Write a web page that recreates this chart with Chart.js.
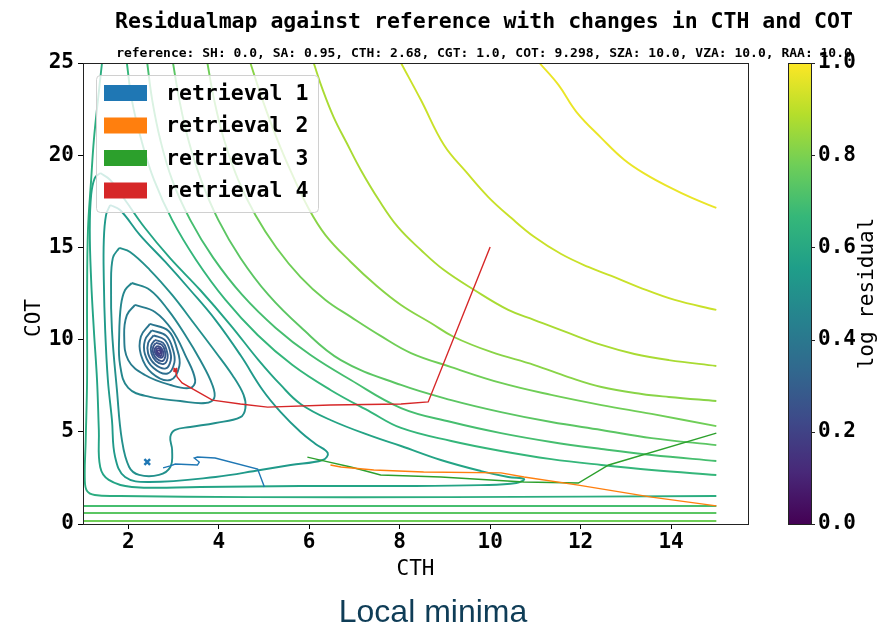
<!DOCTYPE html>
<html>
<head>
<meta charset="utf-8">
<script src="https://cdn.jsdelivr.net/npm/chart.js@4.4.1/dist/chart.umd.min.js"></script>
<style>
    body { margin: 0; background: #fff; }
    #wrap { position: relative; width: 893px; height: 623px; overflow: hidden; }
    #chart_canvas { position: absolute; left: 0; top: 0; }
    .txt { position: absolute; white-space: nowrap; line-height: 1; transform: translateX(-50%); color: #000; }
    #title { left: 484px; top: 8px; font: bold 21.5px "DejaVu Sans Mono"; }
    #subtitle { left: 484px; top: 45px; font: bold 13px "DejaVu Sans Mono"; }
    #caption { left: 433px; top: 593px; font: 32px "Liberation Sans"; color: #0f3d57; }
</style>
</head>
<body>
<div id="wrap">
    <canvas id="chart_canvas" width="893" height="623"></canvas>
    <div id="title" class="txt">Residualmap against reference with changes in CTH and COT</div>
    <div id="subtitle" class="txt">reference: SH: 0.0, SA: 0.95, CTH: 2.68, CGT: 1.0, COT: 9.298, SZA: 10.0, VZA: 10.0, RAA: 10.0</div>
    <div id="caption" class="txt">Local minima</div>
</div>
<script>

// tick labels
var xTicks = [2, 4, 6, 8, 10, 12, 14];
var yTicks = [0, 5, 10, 15, 20, 25];
var cbTicks = [0, 0.2, 0.4, 0.6, 0.8, 1.0];

// retrieval paths (CTH, COT)
var retrieval1X = [5.01, 4.86, 3.92, 3.53, 3.46, 3.57, 3.53, 3.04, 2.93, 2.77];
var retrieval1Y = [2.01, 2.98, 3.58, 3.63, 3.58, 3.36, 3.20, 3.25, 3.15, 3.04];
var retrieval2X = [15.0, 13.57, 11.95, 10.75, 10.24, 8.53, 7.43, 6.70, 6.47];
var retrieval2Y = [0.98, 1.46, 2.11, 2.55, 2.77, 2.82, 2.93, 3.09, 3.20];
var retrieval3X = [15.0, 12.62, 11.95, 10.75, 8.91, 7.58, 6.92, 6.32, 5.96];
var retrieval3Y = [4.93, 3.20, 2.22, 2.28, 2.55, 2.66, 3.09, 3.42, 3.63];
var retrieval4X = [10.0, 8.63, 8.03, 6.47, 5.08, 4.48, 3.86, 3.19, 3.08, 3.04];
var retrieval4Y = [15.02, 6.62, 6.51, 6.45, 6.34, 6.51, 6.72, 7.65, 7.97, 8.35];
var retrievalColors = ['#1f77b4', '#ff7f0e', '#2ca02c', '#d62728'];
var markerBlue = [2.42, 3.36];
var markerRed = [3.04, 8.35];

// contour lines of the log residual as [CTH, COT]
var ring1 = [[2.67,9.44],[2.70,9.41],[2.71,9.34],[2.71,9.28],[2.70,9.22],[2.67,9.25],[2.65,9.32],[2.65,9.39],[2.67,9.44]];
var ring2 = [[2.65,9.55],[2.71,9.49],[2.74,9.35],[2.74,9.22],[2.72,9.11],[2.66,9.17],[2.62,9.31],[2.62,9.45],[2.65,9.55]];
var ring3 = [[2.64,9.66],[2.72,9.57],[2.77,9.36],[2.78,9.17],[2.73,9.01],[2.65,9.09],[2.59,9.30],[2.59,9.51],[2.64,9.66]];
var ring4 = [[2.61,9.82],[2.75,9.70],[2.81,9.38],[2.82,9.09],[2.76,8.84],[2.63,8.96],[2.55,9.28],[2.55,9.60],[2.61,9.82]];
var ring5 = [[2.59,9.98],[2.77,9.82],[2.85,9.40],[2.87,9.01],[2.79,8.68],[2.61,8.84],[2.51,9.27],[2.51,9.69],[2.59,9.98]];
var ring6 = [[2.56,10.23],[2.80,10.00],[2.92,9.42],[2.94,8.88],[2.83,8.44],[2.59,8.66],[2.44,9.24],[2.44,9.82],[2.56,10.23]];
var ring7 = [[2.52,10.50],[2.84,10.20],[2.99,9.45],[3.02,8.75],[2.87,8.16],[2.56,8.46],[2.37,9.21],[2.37,9.97],[2.52,10.50]];
var ring8 = [[2.48,10.85],[2.89,10.47],[3.08,9.48],[3.13,8.57],[2.93,7.81],[2.52,8.19],[2.28,9.18],[2.28,10.17],[2.48,10.85]];
var ring9 = [[2.15,11.88],[2.59,11.50],[2.97,10.52],[3.26,9.16],[3.48,7.81],[3.37,7.38],[2.93,7.54],[2.37,8.08],[2.00,8.89],[1.91,10.25],[1.97,11.33],[2.15,11.88]];
var ring10 = [[2.08,13.07],[2.48,12.69],[2.88,11.61],[3.26,10.25],[3.59,8.89],[3.86,7.54],[3.90,6.83],[3.70,6.56],[3.15,6.67],[2.48,6.89],[2.00,7.38],[1.82,8.62],[1.80,10.25],[1.84,11.88],[1.93,12.69],[2.08,13.07]];
var lobeQ = [[1.80,14.97],[2.04,14.75],[2.48,13.77],[2.97,12.42],[3.48,10.79],[3.93,9.33],[4.30,8.08],[4.55,7.00],[4.59,6.29],[4.48,5.80],[3.93,5.48],[3.37,5.26],[3.04,5.10],[2.93,4.72],[2.97,4.01],[2.93,3.09],[2.68,2.66],[2.24,2.66],[2.02,3.09],[1.86,4.56],[1.75,7.27],[1.64,10.52],[1.62,12.96],[1.66,14.43],[1.80,14.97]];
var lobeP = [[1.60,17.30],[1.82,17.03],[2.26,15.67],[2.82,14.21],[3.37,12.69],[3.93,11.06],[4.48,9.16],[4.97,7.27],[5.37,6.07],[5.81,4.99],[6.14,4.34],[6.41,3.85],[6.30,3.47],[5.59,3.20],[4.92,2.93],[3.93,2.55],[2.46,2.28],[1.93,2.55],[1.71,3.63],[1.64,5.64],[1.55,7.81],[1.49,10.52],[1.46,13.23],[1.46,15.40],[1.51,16.76],[1.60,17.30]];
var lobeR = [[1.38,19.03],[1.60,18.66],[1.93,17.57],[2.37,16.05],[2.92,14.43],[3.59,12.69],[4.26,10.79],[4.88,8.89],[5.37,7.54],[5.81,6.51],[6.47,5.64],[7.43,4.72],[8.03,4.23],[8.91,3.47],[9.80,2.87],[10.40,2.55],[10.75,2.44],[10.58,2.22],[9.80,2.11],[8.03,2.06],[5.81,2.06],[3.59,2.01],[2.08,2.01],[1.57,2.39],[1.38,3.09],[1.35,5.10],[1.31,7.81],[1.24,10.52],[1.18,13.23],[1.15,15.94],[1.18,17.84],[1.26,18.76],[1.38,19.03]];
var edgeS = [[1.42,25],[1.33,22.99],[1.24,20.82],[1.18,18.66],[1.11,15.94],[1.09,12.15],[1.09,7.81],[1.06,4.56],[1.04,2.39],[1.09,1.79],[1.26,1.57],[1.82,1.52],[4.70,1.46],[9.14,1.46],[15,1.52]];
var arc8 = [[1.97,25],[2.08,22.99],[2.29,20.82],[2.57,18.66],[2.97,16.49],[3.50,14.32],[4.15,12.15],[4.86,10.25],[5.63,8.62],[6.47,7.27],[7.36,6.07],[8.03,5.21],[9.14,4.50],[10.24,3.96],[11.35,3.52],[12.46,3.20],[13.57,2.93],[15,2.66]];
var arc7 = [[2.42,25],[2.53,22.99],[2.71,20.82],[2.97,18.66],[3.37,16.49],[3.88,14.43],[4.52,12.42],[5.26,10.63],[6.03,9.16],[6.92,7.81],[8.03,6.29],[9.14,5.53],[10.24,4.93],[11.35,4.45],[12.46,4.07],[13.57,3.74],[15,3.42]];
var arc6 = [[2.99,25],[3.13,22.99],[3.33,20.82],[3.61,18.66],[3.99,16.49],[4.48,14.43],[5.10,12.42],[5.81,10.68],[6.70,8.89],[8.03,7.54],[9.14,6.72],[10.24,6.07],[11.35,5.53],[12.46,5.10],[13.57,4.66],[15,4.28]];
var arc5 = [[3.75,25],[3.90,22.99],[4.12,20.82],[4.43,18.66],[4.81,16.76],[5.28,14.97],[5.81,13.39],[6.36,12.15],[6.92,11.23],[7.58,10.20],[8.25,9.27],[9.14,8.51],[10.24,7.65],[11.35,7.00],[12.46,6.45],[13.57,5.97],[15,5.31]];
var arc4 = [[4.70,25],[4.97,22.99],[5.30,20.82],[5.63,18.93],[5.97,17.19],[6.36,15.67],[6.92,14.21],[7.47,12.96],[8.03,11.88],[8.69,10.90],[9.20,10.14],[10.02,9.33],[10.98,8.62],[11.73,7.97],[12.46,7.43],[13.35,7.05],[13.95,6.89],[15,6.67]];
var arc3 = [[6.10,25],[6.30,23.54],[6.54,22.07],[6.83,20.66],[7.14,19.20],[7.54,17.57],[7.96,16.11],[8.47,14.86],[8.98,13.77],[9.65,12.69],[10.40,11.61],[10.98,11.06],[11.73,10.36],[12.46,9.71],[13.19,9.22],[13.95,8.89],[15,8.57]];
var arc2 = [[8.03,25],[8.47,22.99],[8.98,20.55],[9.47,19.09],[9.96,17.73],[10.47,16.59],[10.98,15.56],[11.57,14.64],[12.17,13.94],[12.68,13.45],[13.28,12.85],[14.08,12.15],[15,11.61]];
var arc1 = [[11.09,25],[11.51,23.81],[11.91,22.34],[12.46,20.93],[12.97,19.74],[13.46,18.93],[13.95,18.28],[14.46,17.68],[15,17.14]];
var floor1 = [[1,0.98],[5,0.98],[10,0.98],[15,0.98]];
var floor2 = [[1,0.60],[5,0.60],[10,0.60],[15,0.60]];
var floor3 = [[1,0.16],[5,0.16],[10,0.16],[15,0.16]];

var contourPaths = [ring1, ring2, ring3, ring4, ring5, ring6, ring7, ring8, ring9, ring10,
    lobeQ, lobeP, lobeR, edgeS, arc8, arc7, arc6, arc5, arc4, arc3, arc2, arc1, floor1, floor2, floor3];
var contourLevels = [0.18, 0.21, 0.24, 0.27, 0.30, 0.33, 0.36, 0.39, 0.42, 0.46,
    0.50, 0.54, 0.58, 0.62, 0.66, 0.70, 0.74, 0.78, 0.82, 0.87, 0.92, 0.97, 0.70, 0.74, 0.78];

var viridis = ['#440154', '#482878', '#3e4989', '#31688e', '#26828e', '#1f9e89', '#35b779', '#6ece58', '#b5de2b', '#fde725'];
var fontFamily = '"DejaVu Sans Mono", monospace';

function hexToRgb(h) {
    return [parseInt(h.substr(1, 2), 16), parseInt(h.substr(3, 2), 16), parseInt(h.substr(5, 2), 16)];
}

function viridisColor(v) {
    var n = viridis.length - 1;
    var f = Math.min(Math.max(v, 0), 1) * n;
    var i = Math.min(Math.floor(f), n - 1);
    var t = f - i;
    var a = hexToRgb(viridis[i]), b = hexToRgb(viridis[i + 1]);
    return 'rgb(' + [0, 1, 2].map(function (k) { return Math.round(a[k] + (b[k] - a[k]) * t); }).join(',') + ')';
}

function toPoints(xs, ys) {
    return xs.map(function (x, i) { return { x: x, y: ys[i] }; });
}

// scales keep the plot box fixed, no extra room for label overhang
function noPad(s) {
    s.paddingTop = 0;
    s.paddingBottom = 0;
    s.paddingLeft = 0;
    s.paddingRight = 0;
}

var datasets = [];

var retrievalX = [retrieval1X, retrieval2X, retrieval3X, retrieval4X];
var retrievalY = [retrieval1Y, retrieval2Y, retrieval3Y, retrieval4Y];
retrievalX.forEach(function (xs, i) {
    datasets.push({
        label: 'retrieval ' + (i + 1),
        isRetrieval: true,
        data: toPoints(xs, retrievalY[i]),
        showLine: true,
        borderColor: retrievalColors[i],
        backgroundColor: retrievalColors[i],
        borderWidth: 1.4,
        pointRadius: 0,
        tension: 0,
        order: 0
    });
});

datasets.push({
    data: [{ x: markerBlue[0], y: markerBlue[1] }],
    pointStyle: 'crossRot', pointRadius: 4, pointBorderWidth: 2.5,
    borderColor: retrievalColors[0], order: 0
});
datasets.push({
    data: [{ x: markerRed[0], y: markerRed[1] }],
    pointStyle: 'crossRot', pointRadius: 2.5, pointBorderWidth: 2,
    borderColor: retrievalColors[3], order: 0
});

contourPaths.forEach(function (path, i) {
    datasets.push({
        data: path.map(function (p) { return { x: p[0], y: p[1] }; }),
        showLine: true,
        borderColor: viridisColor(contourLevels[i]),
        borderWidth: 1.9,
        pointRadius: 0,
        tension: 0.4,
        order: 1
    });
});

// plot frame and the COT label
var framePlugin = {
    id: 'frame',
    afterDraw: function (chart) {
        var a = chart.chartArea, ctx = chart.ctx;
        ctx.save();
        ctx.strokeStyle = '#222';
        ctx.lineWidth = 1;
        ctx.strokeRect(Math.round(a.left) + 0.5, Math.round(a.top) + 0.5, Math.round(a.right - a.left), Math.round(a.bottom - a.top));
        ctx.translate(35, 318);
        ctx.rotate(-Math.PI / 2);
        ctx.fillStyle = '#000';
        ctx.font = '21px ' + fontFamily;
        ctx.textAlign = 'center';
        ctx.textBaseline = 'middle';
        ctx.fillText('COT', 0, 0);
        ctx.restore();
    }
};

// colour bar next to the plot
var colorbarPlugin = {
    id: 'colorbar',
    afterDraw: function (chart) {
        var ctx = chart.ctx, cb = chart.scales.cb;
        var x0 = 788, w = 23;
        var top = cb.getPixelForValue(1), bottom = cb.getPixelForValue(0);
        ctx.save();
        var grad = ctx.createLinearGradient(0, bottom, 0, top);
        viridis.forEach(function (c, i) { grad.addColorStop(i / (viridis.length - 1), c); });
        ctx.fillStyle = grad;
        ctx.fillRect(x0, top, w, bottom - top);
        ctx.strokeStyle = '#222';
        ctx.lineWidth = 1;
        ctx.strokeRect(x0 + 0.5, Math.round(top) + 0.5, w, Math.round(bottom - top));
        cb.ticks.forEach(function (t) {
            var y = Math.round(cb.getPixelForValue(t.value)) + 0.5;
            ctx.beginPath();
            ctx.moveTo(x0 + w, y);
            ctx.lineTo(x0 + w + 4, y);
            ctx.stroke();
        });
        ctx.translate(868, (top + bottom) / 2);
        ctx.rotate(-Math.PI / 2);
        ctx.fillStyle = '#000';
        ctx.font = '21px ' + fontFamily;
        ctx.textAlign = 'center';
        ctx.textBaseline = 'middle';
        ctx.fillText('log residual', 0, 0);
        ctx.restore();
    }
};

// legend box inside the plot, upper left
var legendPlugin = {
    id: 'boxLegend',
    afterDatasetsDraw: function (chart) {
        var ctx = chart.ctx, a = chart.chartArea;
        var items = chart.data.datasets.filter(function (d) { return d.isRetrieval; });
        var bx = a.left + 13, by = a.top + 12, bw = 222, bh = 137;
        ctx.save();
        ctx.fillStyle = 'rgba(255,255,255,0.8)';
        ctx.strokeStyle = '#d0d0d0';
        ctx.lineWidth = 1;
        ctx.beginPath();
        ctx.roundRect(bx + 0.5, by + 0.5, bw, bh, 4);
        ctx.fill();
        ctx.stroke();
        ctx.font = 'bold 21.5px ' + fontFamily;
        ctx.textBaseline = 'middle';
        items.forEach(function (d, i) {
            var cy = by + 18 + i * 32.5;
            ctx.fillStyle = d.borderColor;
            ctx.fillRect(bx + 8, cy - 8, 43, 16);
            ctx.fillStyle = '#000';
            ctx.fillText(d.label, bx + 70, cy + 1);
        });
        ctx.restore();
    }
};

var ctx = document.getElementById('chart_canvas').getContext('2d');

var chart = new Chart(ctx, {
    type: 'scatter',
    data: { datasets: datasets },
    options: {
        responsive: false,
        animation: false,
        devicePixelRatio: 1,
        events: [],
        layout: { padding: { top: 63, left: 0, right: 0, bottom: 0 } },
        plugins: {
            legend: { display: false },
            tooltip: { enabled: false }
        },
        scales: {
            x: {
                type: 'linear',
                min: 1,
                max: 15.7,
                afterBuildTicks: function (s) { s.ticks = xTicks.map(function (v) { return { value: v }; }); },
                afterFit: function (s) { s.height = 99; noPad(s); },
                grid: { display: true, drawOnChartArea: false, drawTicks: true, tickLength: 5, color: '#000' },
                border: { display: false },
                ticks: { color: '#000', padding: 1, maxRotation: 0, autoSkip: false, font: { family: fontFamily, size: 21, weight: 'bold' } },
                title: { display: true, text: 'CTH', color: '#000', font: { family: fontFamily, size: 21 }, padding: { top: 41, bottom: 41 } }
            },
            y: {
                type: 'linear',
                min: 0,
                max: 25,
                afterBuildTicks: function (s) { s.ticks = yTicks.map(function (v) { return { value: v }; }); },
                afterFit: function (s) { s.width = 83; noPad(s); },
                grid: { display: true, drawOnChartArea: false, drawTicks: true, tickLength: 5, color: '#000' },
                border: { display: false },
                ticks: { color: '#000', padding: 4, autoSkip: false, font: { family: fontFamily, size: 21, weight: 'bold' } }
            },
            cb: {
                type: 'linear',
                position: 'right',
                min: 0,
                max: 1,
                afterBuildTicks: function (s) { s.ticks = cbTicks.map(function (v) { return { value: v }; }); },
                afterFit: function (s) { s.width = 145; noPad(s); },
                grid: { display: false, drawTicks: false },
                border: { display: false },
                ticks: {
                    color: '#000', padding: 70, autoSkip: false,
                    font: { family: fontFamily, size: 21, weight: 'bold' },
                    callback: function (v) { return v.toFixed(1); }
                }
            }
        }
    },
    plugins: [framePlugin, colorbarPlugin, legendPlugin]
});

</script>
</body>
</html>
